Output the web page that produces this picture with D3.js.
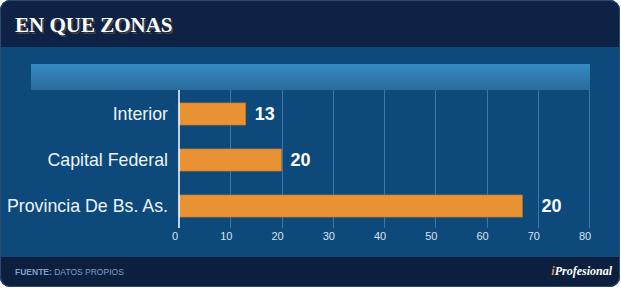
<!DOCTYPE html>
<html>
<head>
<meta charset="utf-8">
<script src="https://cdn.jsdelivr.net/npm/d3@7"></script>
<style>
  body { margin: 0; background: #fff; }
  svg { display: block; }
</style>
</head>
<body>
<figure style="margin:0"></figure>
<script>
const categories = ['Interior', 'Capital Federal', 'Provincia De Bs. As.']
const values = [13, 20, 67]
const valueLabels = ['13', '20', '20']
const ticks = [0, 10, 20, 30, 40, 50, 60, 70, 80]

const W = 621, H = 289
const svg = d3.select('figure').append('svg')
    .attr('width', W).attr('height', H)

const defs = svg.append('defs')
const grad = defs.append('linearGradient').attr('id', 'band').attr('x1', 0).attr('x2', 0).attr('y1', 0).attr('y2', 1)
grad.append('stop').attr('offset', 0).attr('stop-color', '#348bc2')
grad.append('stop').attr('offset', 1).attr('stop-color', '#2a6b9c')
defs.append('clipPath').attr('id', 'card')
  .append('rect').attr('x', 0).attr('y', 0).attr('width', 620).attr('height', 287).attr('rx', 10)

const card = svg.append('g').attr('clip-path', 'url(#card)')
card.append('rect').attr('width', 620).attr('height', 287).attr('fill', '#0d497a')
card.append('rect').attr('width', 620).attr('height', 47).attr('fill', '#0d2244')
card.append('rect').attr('y', 257).attr('width', 620).attr('height', 30).attr('fill', '#0d1f3f')
svg.append('rect').attr('x', 0.5).attr('y', 0.5).attr('width', 619).attr('height', 286).attr('rx', 10)
    .attr('fill', 'none').attr('stroke', '#2b4a6e').attr('stroke-width', 1)

// title
svg.append('text').attr('x', 15).attr('y', 32).text('EN QUE ZONAS')
    .attr('fill', '#444').attr('font-family', 'Liberation Serif, Times New Roman, serif')
    .attr('font-weight', 'bold').attr('font-size', 21).attr('transform', 'translate(1.5,1.5)')
svg.append('text').attr('x', 15).attr('y', 32).text('EN QUE ZONAS')
    .attr('fill', '#fff').attr('font-family', 'Liberation Serif, Times New Roman, serif')
    .attr('font-weight', 'bold').attr('font-size', 21)

// header band
svg.append('rect').attr('x', 31).attr('y', 64).attr('width', 559).attr('height', 26).attr('fill', 'url(#band)')

const x = d3.scaleLinear().domain([0, 80]).range([179, 589])
const y = d3.scaleBand().domain(categories).range([91, 229]).paddingInner(0.52).paddingOuter(0.26)

// grid
svg.append('g').selectAll('line').data(ticks.slice(1)).join('line')
    .attr('x1', d => Math.round(x(d)) + 0.5).attr('x2', d => Math.round(x(d)) + 0.5)
    .attr('y1', 90).attr('y2', 228)
    .attr('stroke', '#3b78a9').attr('stroke-width', 1)

// bars
svg.append('g').selectAll('rect').data(values).join('rect')
    .attr('x', x(0)).attr('y', (d, i) => y(categories[i]))
    .attr('width', d => x(d) - x(0)).attr('height', y.bandwidth())
    .attr('fill', '#e89233').attr('stroke', '#c97a25').attr('stroke-width', 0.6)

// axis line
svg.append('line').attr('x1', 179).attr('x2', 179).attr('y1', 90).attr('y2', 228)
    .attr('stroke', '#fff').attr('stroke-width', 1.5)

// category labels
svg.append('g').selectAll('text').data(categories).join('text')
    .attr('x', 168).attr('y', d => y(d) + y.bandwidth() / 2)
    .attr('dy', '0.35em').attr('text-anchor', 'end')
    .attr('fill', '#eef3f8').attr('font-family', 'Liberation Sans, Arial, sans-serif').attr('font-size', 17.8)
    .text(d => d)

// value labels
svg.append('g').selectAll('text').data(values).join('text')
    .attr('x', (d, i) => x(d) + (i === 2 ? 19 : 9)).attr('y', (d, i) => y(categories[i]) + y.bandwidth() / 2)
    .attr('dy', '0.36em')
    .attr('fill', '#fff').attr('font-family', 'Liberation Sans, Arial, sans-serif')
    .attr('font-weight', 'bold').attr('font-size', 18)
    .text((d, i) => valueLabels[i])

// tick labels
svg.append('g').selectAll('text').data(ticks).join('text')
    .attr('x', d => x(d) - 4).attr('y', 240).attr('text-anchor', 'middle')
    .attr('fill', '#dbe5ef').attr('font-family', 'Liberation Sans, Arial, sans-serif').attr('font-size', 11)
    .text(d => d)

// footer
const src = svg.append('text').attr('x', 15).attr('y', 275)
    .attr('font-family', 'Liberation Sans, Arial, sans-serif').attr('font-size', 8.5).attr('fill', '#7f9fc6')
src.append('tspan').attr('font-weight', 'bold').text('FUENTE:')
src.append('tspan').text(' DATOS PROPIOS')

const logo = svg.append('text').attr('x', 612).attr('y', 275).attr('text-anchor', 'end')
    .attr('font-family', 'Liberation Serif, Times New Roman, serif').attr('font-style', 'italic')
    .attr('font-weight', 'bold').attr('font-size', 12)
logo.append('tspan').attr('fill', '#e89233').text('i')
logo.append('tspan').attr('fill', '#fff').text('Profesional')
</script>
</body>
</html>
